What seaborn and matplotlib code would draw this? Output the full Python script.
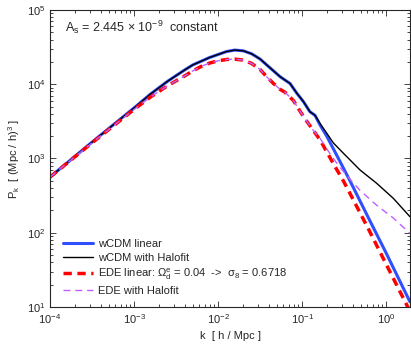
import numpy as np
import pandas as pd
import seaborn as sns
import matplotlib
matplotlib.use("Agg")
import matplotlib.pyplot as plt
from matplotlib.ticker import LogLocator, NullFormatter

# values (k in h/Mpc, P in (Mpc/h)^3)
k_wcdm_nl = [1e-4, 3.16e-4, 1e-3, 1.58e-3, 2.51e-3, 3.98e-3, 5.01e-3, 6.31e-3, 7.94e-3,
             1e-2, 1.26e-2, 1.58e-2, 2.0e-2, 2.51e-2, 3.16e-2, 3.8e-2, 4.57e-2, 5.5e-2,
             7.2e-2, 8.65e-2, 0.104, 0.124, 0.143, 0.164, 0.197, 0.236, 0.311, 0.49,
             0.774, 1.22, 1.93]
p_wcdm_nl = [562, 1660, 4790, 7410, 10960, 15490, 18200, 20420, 22910,
             25120, 27540, 28840, 28180, 25700, 21880, 18200, 15140, 12590,
             10230, 7590, 5820, 4270, 3800, 2950, 2190, 1620, 1175, 700,
             463, 291, 164]

k_wcdm_lin = [1e-4, 3.16e-4, 1e-3, 1.58e-3, 2.51e-3, 3.98e-3, 5.01e-3, 6.31e-3, 7.94e-3,
              1e-2, 1.26e-2, 1.58e-2, 2.0e-2, 2.51e-2, 3.16e-2, 3.8e-2, 4.57e-2, 5.5e-2,
              7.2e-2, 8.65e-2, 0.104, 0.124, 0.143, 0.164, 0.197, 0.236, 0.283, 0.372,
              0.631, 1.0, 1.93]
p_wcdm_lin = [562, 1660, 4790, 7410, 10960, 15490, 18200, 20420, 22910,
              25120, 27540, 28840, 28180, 25700, 21880, 18200, 15140, 12590,
              10230, 7590, 5820, 4270, 3800, 2820, 1995, 1350, 912, 501,
              151, 53.7, 11.7]

k_ede_lin = [1e-4, 3.16e-4, 1e-3, 1.58e-3, 2.51e-3, 3.98e-3, 5.01e-3, 6.31e-3, 7.94e-3,
             1e-2, 1.26e-2, 1.58e-2, 2.0e-2, 2.51e-2, 3.16e-2, 3.8e-2, 4.57e-2, 5.5e-2,
             6.3e-2, 7.9e-2, 9.55e-2, 0.114, 0.136, 0.164, 0.197, 0.236, 0.31, 0.372,
             0.631, 1.0, 1.93]
p_ede_lin = [562, 1622, 4571, 6761, 9550, 12880, 15140, 17380, 19280,
             20650, 21530, 21780, 21130, 19050, 15850, 12590, 10230, 8511,
             7762, 6026, 4266, 3162, 2399, 1778, 1230, 851, 501, 339,
             107, 38.0, 8.7]

k_ede_nl = [1e-4, 3.16e-4, 1e-3, 1.58e-3, 2.51e-3, 3.98e-3, 5.01e-3, 6.31e-3, 7.94e-3,
            1e-2, 1.26e-2, 1.58e-2, 2.0e-2, 2.51e-2, 3.16e-2, 3.8e-2, 4.57e-2, 5.5e-2,
            6.3e-2, 7.9e-2, 9.55e-2, 0.114, 0.136, 0.164, 0.197, 0.236, 0.283, 0.372,
            0.49, 0.774, 1.22, 1.93]
p_ede_nl = [562, 1622, 4571, 6761, 9550, 12880, 15140, 17380, 19280,
            20650, 21530, 21780, 21130, 19050, 15850, 12590, 10230, 8511,
            7762, 6026, 4266, 3162, 2399, 1862, 1349, 1000, 759, 525,
            372, 234, 158, 97.7]

labels = ["wCDM linear", "wCDM with Halofit",
          r"EDE linear: $\Omega^e_d$ = 0.04  ->  $\sigma_8$ = 0.6718",
          "EDE with Halofit"]

sns.set_style("ticks")
plt.rcParams['font.family'] = ['Liberation Sans', 'DejaVu Sans']
plt.rcParams['mathtext.fontset'] = 'custom'
plt.rcParams['mathtext.rm'] = 'Liberation Sans'
plt.rcParams['mathtext.it'] = 'Liberation Sans:italic'
plt.rcParams['mathtext.default'] = 'regular'
plt.rcParams['xtick.direction'] = 'in'
plt.rcParams['ytick.direction'] = 'in'

fig = plt.figure(figsize=(4.11, 3.44), dpi=100)
ax = fig.add_axes([0.1217, 0.1076, 0.8759, 0.8634])

sns.lineplot(x=k_wcdm_lin, y=p_wcdm_lin, ax=ax, color="#2f4fff", linewidth=2.2,
             label=labels[0], sort=False)
sns.lineplot(x=k_wcdm_nl, y=p_wcdm_nl, ax=ax, color="black", linewidth=1.0,
             label=labels[1], sort=False)
sns.lineplot(x=k_ede_lin, y=p_ede_lin, ax=ax, color="#ff0000", linewidth=2.5,
             linestyle=(0, (2.4, 1.6)), label=labels[2], sort=False)
sns.lineplot(x=k_ede_nl, y=p_ede_nl, ax=ax, color="#bf5fff", linewidth=1.0,
             linestyle=(0, (5, 3.5)), label=labels[3], sort=False)

ax.set_xscale("log")
ax.set_yscale("log")
ax.set_xlim(1e-4, 1.93)
ax.set_ylim(10, 1e5)

ax.xaxis.set_major_locator(LogLocator(base=10, numticks=10))
ax.xaxis.set_minor_locator(LogLocator(base=10, subs=np.arange(2, 10), numticks=20))
ax.yaxis.set_minor_locator(LogLocator(base=10, subs=np.arange(2, 10), numticks=20))
ax.xaxis.set_minor_formatter(NullFormatter())
ax.yaxis.set_minor_formatter(NullFormatter())
ax.tick_params(which="both", top=True, right=True, labelsize=8, width=0.6)
ax.tick_params(which="major", length=4)
ax.tick_params(which="minor", length=2)
for s in ax.spines.values():
    s.set_linewidth(0.8)

ax.set_xlabel("k  [ h / Mpc ]", fontsize=8, labelpad=4)
ax.set_ylabel(r"P$_k$  [ (Mpc / h)$^3$ ]", fontsize=8, labelpad=3)

ax.text(0.042, 0.943, r"A$_s$ = 2.445 $\times$ 10$^{-9}$  constant", transform=ax.transAxes,
        fontsize=9, va="center", ha="left")

ax.legend(loc="lower left", bbox_to_anchor=(0.036, 0.037), frameon=False, fontsize=8,
          handlelength=2.7, handletextpad=0.45, labelspacing=0.35, borderpad=0,
          borderaxespad=0)

fig.savefig("out.png", dpi=100)
